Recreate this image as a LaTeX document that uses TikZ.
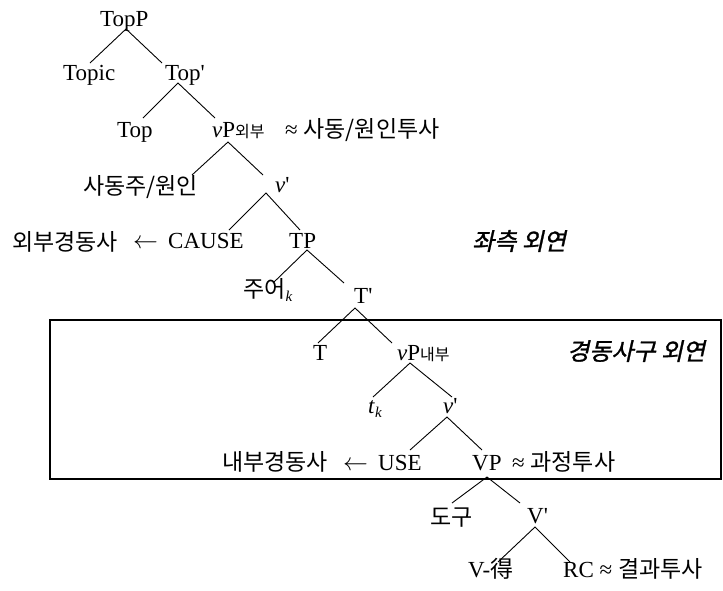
\documentclass[tikz,border=0pt]{standalone}
\usepackage{fontspec}
\setmainfont{Liberation Serif}
\newfontfamily\kr{Noto Sans CJK KR}
\newfontfamily\krit{Noto Sans CJK KR}[FakeSlant=0.22,FakeBold=1.2]
\begin{document}
\begin{tikzpicture}[x=1pt,y=-1pt,
  lbl/.style={inner sep=0pt, anchor=base west, font=\fontsize{23}{23}\selectfont},
  kor/.style={inner sep=0pt, anchor=base west, font=\fontsize{23}{23}\selectfont\kr},
  kit/.style={inner sep=0pt, anchor=base west, font=\fontsize{24}{24}\selectfont\krit},
  branch/.style={line width=0.9pt},
  frame/.style={line width=1.8pt}]
\useasboundingbox (0,0) rectangle (723,590);
\newcommand{\ksub}[1]{{\kr\fontsize{16}{16}\selectfont #1}}
\newcommand{\isub}[1]{\raisebox{-4pt}{\fontsize{15}{15}\selectfont\itshape #1}}
\newcommand{\kt}[1]{{\kr\fontsize{23}{23}\selectfont #1}}
\newcommand{\pr}{\textquotesingle}
% labels
\node[lbl] (TopP) at (100,26) {TopP};
\node[lbl] (Topic) at (63,80) {Topic};
\node[lbl] (Topb) at (165,80) {Top\pr};
\node[lbl] (Top) at (117,137) {Top};
\node[lbl] (vPo) at (212,137) {\textit{v}P\ksub{외부}};
\node[lbl] (vPoann) at (285,137) {≈ \kt{사동/원인투사}};
\node[kor] (causer) at (83,194) {사동주/원인};
\node[lbl] (vb1) at (275,192) {\textit{v}\pr};
\node[kor] (extlv) at (12,250) {외부경동사};
\node[lbl] (arr1) at (133,248) {$\leftarrow$};
\node[lbl] (CAUSE) at (168,248) {CAUSE};
\node[lbl] (TP) at (289,248) {TP};
\node[lbl] (subj) at (243,297) {\kt{주어}\isub{k}};
\node[lbl] (Tb) at (354,303) {T\pr};
\node[kit] (leftext) at (472,250) {좌측 외연};
\node[lbl] (T) at (313,360) {T};
\node[lbl] (vPi) at (397,360) {\textit{v}P\ksub{내부}};
\node[kit] (lvpext) at (567,360) {경동사구 외연};
\node[lbl] (tk) at (368,413) {\textit{t}\isub{k}};
\node[lbl] (vb2) at (443,413) {\textit{v}\pr};
\node[kor] (intlv) at (222,470) {내부경동사};
\node[lbl] (arr2) at (343,470) {$\leftarrow$};
\node[lbl] (USE) at (378,470) {USE};
\node[lbl] (VP) at (472,470) {VP};
\node[lbl] (VPann) at (512,470) {≈ \kt{과정투사}};
\node[kor] (tool) at (430,525) {도구};
\node[lbl] (Vb) at (527,523) {V\pr};
\node[lbl] (Vde) at (468,577) {V-\kt{得}};
\node[lbl] (RC) at (563,577) {RC ≈ \kt{결과투사}};
% branch points
\coordinate (TopP-a) at (126,29);  \coordinate (Topic-e) at (90,63);  \coordinate (Topb-e) at (162,63);
\coordinate (Topb-a) at (178,83);  \coordinate (Top-e) at (143,118);  \coordinate (vPo-e) at (215,118);
\coordinate (vPo-a) at (228,142);  \coordinate (causer-e) at (192,175); \coordinate (vb1-e) at (263,175);
\coordinate (vb1-a) at (266,193);  \coordinate (CAUSE-e) at (229,230); \coordinate (TP-e) at (300,230);
\coordinate (TP-a) at (307,250);   \coordinate (subj-e) at (273,283);  \coordinate (Tb-e) at (344,283);
\coordinate (Tb-a) at (355,308);   \coordinate (T-e) at (318,343);     \coordinate (vPi-e) at (392,343);
\coordinate (vPi-a) at (410,363);  \coordinate (tk-e) at (373,397);    \coordinate (vb2-e) at (452,397);
\coordinate (vb2-a) at (447,417);  \coordinate (USE-e) at (410,450);   \coordinate (VP-e) at (482,450);
\coordinate (VP-a) at (487,477);   \coordinate (tool-e) at (452,503);  \coordinate (Vb-e) at (520,503);
\coordinate (Vb-a) at (535,527);   \coordinate (Vde-e) at (498,562);   \coordinate (RC-e) at (570,562);
\draw[branch] (Topic-e) -- (TopP-a) -- (Topb-e);
\draw[branch] (Top-e) -- (Topb-a) -- (vPo-e);
\draw[branch] (causer-e) -- (vPo-a) -- (vb1-e);
\draw[branch] (CAUSE-e) -- (vb1-a) -- (TP-e);
\draw[branch] (subj-e) -- (TP-a) -- (Tb-e);
\draw[branch] (T-e) -- (Tb-a) -- (vPi-e);
\draw[branch] (tk-e) -- (vPi-a) -- (vb2-e);
\draw[branch] (USE-e) -- (vb2-a) -- (VP-e);
\draw[branch] (tool-e) -- (VP-a) -- (Vb-e);
\draw[branch] (Vde-e) -- (Vb-a) -- (RC-e);
% frame
\draw[frame] (50,320) rectangle (721,479);
\end{tikzpicture}
\end{document}
